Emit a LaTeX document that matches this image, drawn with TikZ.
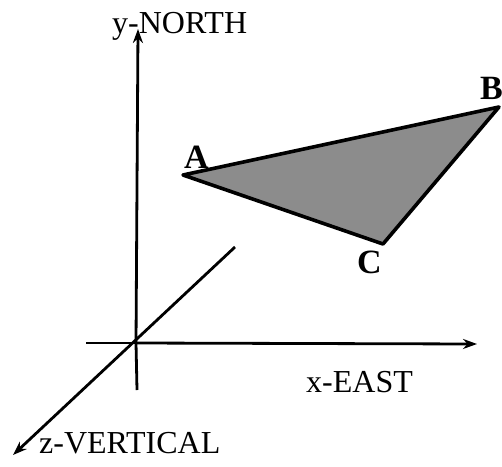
\documentclass[tikz,border=0pt]{standalone}
\usepackage{fontspec}
\setmainfont{Liberation Serif}
\usetikzlibrary{arrows.meta}
\begin{document}
\begin{tikzpicture}[x=1pt,y=-1pt,
  axisline/.style={line width=2.8pt},
  axis/.style={axisline,-{Stealth[length=14pt,width=10pt]}},
  axislabel/.style={inner sep=0pt,anchor=base west,font=\fontsize{32}{38}\selectfont},
  vlabel/.style={inner sep=0pt,anchor=base west,font=\fontsize{34}{40}\selectfont\bfseries},
  tri/.style={line width=3.6pt,line join=round,fill=black!45,draw=black}]
\useasboundingbox (0,0) rectangle (502,466);
% axes
\coordinate (O) at (136,343);
\coordinate (xs) at (86,343);
\coordinate (xe) at (477,344);
\coordinate (ys) at (137,390);
\coordinate (ye) at (138,29);
\coordinate (zs) at (235,247);
\coordinate (ze) at (13,455);
\draw[axisline] (xs) -- (O);
\draw[axis] (O) -- (xe);
\draw[axisline] (ys) -- (O);
\draw[axis] (O) -- (ye);
\draw[axis] (zs) -- (ze);
\node[axislabel] (ylab) at (112,33) {y-NORTH};
\node[axislabel] (xlab) at (306,392) {x-EAST};
\node[axislabel] (zlab) at (39,453) {z-VERTICAL};
% triangle
\coordinate (A) at (183,175);
\coordinate (B) at (499,107);
\coordinate (C) at (383,244);
\draw[tri] (A) -- (B) -- (C) -- cycle;
\node[vlabel] (la) at (184,168) {A};
\node[vlabel] (lb) at (480,99) {B};
\node[vlabel] (lc) at (357,273) {C};
\end{tikzpicture}
\end{document}
